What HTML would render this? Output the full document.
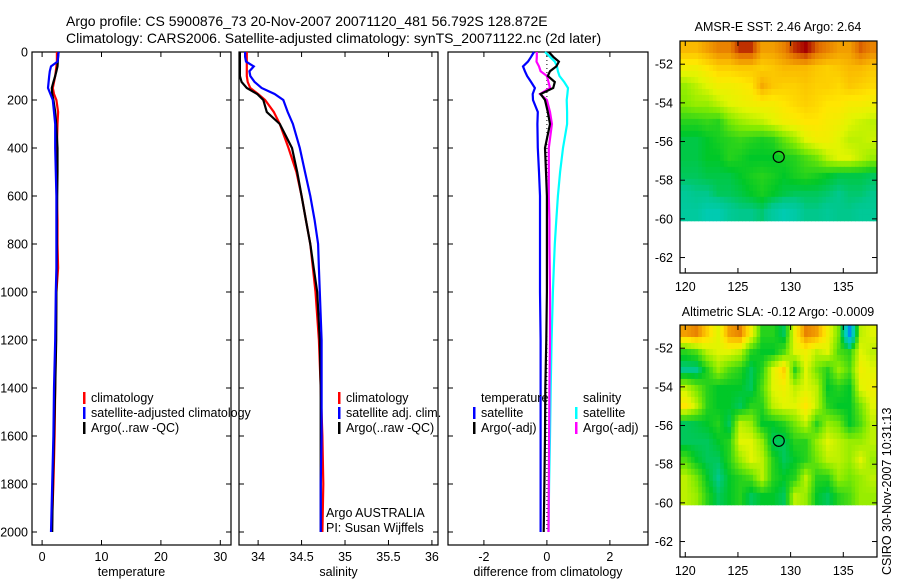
<!DOCTYPE html>
<html><head><meta charset="utf-8">
<style>
html,body{margin:0;padding:0;background:#fff;}
svg{display:block;font-family:"Liberation Sans",Arial,sans-serif;}
</style></head>
<body>
<svg id="chart" width="900" height="580" viewBox="0 0 900 580" xmlns="http://www.w3.org/2000/svg">
<text x="66" y="26" font-size="14">Argo profile: CS 5900876_73 20-Nov-2007 20071120_481 56.792S 128.872E</text>
<text x="66" y="43" font-size="14">Climatology: CARS2006. Satellite-adjusted climatology: synTS_20071122.nc (2d later)</text>
<text x="778" y="31" font-size="12.5" text-anchor="middle">AMSR-E SST: 2.46 Argo: 2.64</text>
<text x="778" y="316" font-size="12.5" text-anchor="middle">Altimetric SLA: -0.12 Argo: -0.0009</text>
<text x="0" y="0" font-size="12.5" transform="translate(891,575) rotate(-90)">CSIRO 30-Nov-2007 10:31:13</text>
<g id="g"></g>
</svg>
<script>
// ---------- data ----------
const depths = [0,20,40,60,80,100,125,150,175,200,250,300,400,500,600,700,800,900,1000,1200,1400,1600,1800,2000];
const tempClim = [2.5,2.5,2.5,2.4,2.3,2.2,2.0,1.8,2.0,2.4,2.7,2.6,2.5,2.5,2.5,2.6,2.6,2.7,2.4,2.3,2.2,2.1,1.9,1.6];
const tempSat  = [2.8,2.7,2.6,1.5,1.3,1.2,1.1,1.0,1.4,1.8,2.0,2.2,2.2,2.3,2.4,2.4,2.4,2.4,2.3,2.2,2.0,1.9,1.7,1.5];
const tempArgo = [2.76,2.7,2.65,2.6,2.4,2.2,1.9,1.64,1.7,1.9,2.2,2.37,2.6,2.6,2.55,2.5,2.5,2.45,2.4,2.37,2.2,2.0,1.8,1.7];
const salClim = [33.87,33.87,33.87,33.87,33.87,33.87,33.88,33.91,34.0,34.08,34.18,34.25,34.35,34.44,34.50,34.55,34.60,34.63,34.66,34.70,34.72,34.74,34.75,34.74];
const salSat  = [33.85,33.85,33.86,33.95,33.9,33.91,33.96,34.04,34.19,34.29,34.34,34.40,34.48,34.54,34.60,34.65,34.69,34.70,34.71,34.73,34.73,34.73,34.72,34.72];
const salArgo = [33.79,33.79,33.79,33.79,33.79,33.79,33.81,33.87,33.99,34.06,34.10,34.25,34.39,34.45,34.50,34.55,34.60,34.64,34.68,34.71,34.72,34.72,34.72,34.72];
const dTempSat  = [-0.41,-0.5,-0.6,-0.76,-0.7,-0.63,-0.5,-0.38,-0.45,-0.44,-0.29,-0.3,-0.29,-0.25,-0.22,-0.22,-0.22,-0.22,-0.22,-0.2,-0.2,-0.2,-0.2,-0.2];
const dTempArgo = [0.06,0.2,0.38,0.3,0.1,0.03,0.25,0.2,-0.2,-0.06,0.03,0.1,-0.06,-0.03,0,0,0,0,0,-0.02,-0.05,-0.06,-0.08,-0.1];
const dSalArgo  = [-0.32,-0.32,-0.33,-0.25,-0.2,0.0,0.05,0.1,-0.22,0.0,0.1,0.16,0.06,0.06,0.06,0.08,0.08,0.09,0.1,0.1,0.08,0.07,0.06,0.05];
const dSalSat   = [-0.06,0.1,0.25,0.32,0.35,0.4,0.55,0.67,0.65,0.63,0.64,0.64,0.51,0.42,0.35,0.3,0.25,0.22,0.19,0.15,0.12,0.1,0.07,0.05];
const depthTicks = [0,200,400,600,800,1000,1200,1400,1600,1800,2000];
const tempTicks = [0,10,20,30];
const salTicks = [34,34.5,35,35.5,36];
const salTickLabels = ["34","34.5","35","35.5","36"];
const diffTicks = [-2,0,2];
const lonTicks = [120,125,130,135];
const latTicks = [-52,-54,-56,-58,-60,-62];
const sstGrid = [
[0.75,0.75,0.8,0.85,0.85,0.95,0.95,0.8,0.8,0.85,0.95,1,0.9,0.85,0.8,0.8,0.9,0.85],
[0.6,0.6,0.65,0.7,0.7,0.72,0.72,0.7,0.72,0.75,0.75,0.75,0.72,0.7,0.72,0.75,0.75,0.72],
[0.45,0.5,0.55,0.6,0.6,0.62,0.65,0.78,0.72,0.7,0.7,0.72,0.7,0.7,0.68,0.72,0.7,0.68],
[0.42,0.45,0.45,0.5,0.55,0.58,0.6,0.62,0.62,0.65,0.68,0.7,0.68,0.65,0.65,0.62,0.62,0.6],
[0.3,0.3,0.32,0.3,0.4,0.45,0.48,0.5,0.55,0.6,0.62,0.65,0.65,0.62,0.6,0.55,0.52,0.5],
[0.22,0.22,0.25,0.28,0.3,0.32,0.3,0.28,0.3,0.38,0.45,0.55,0.6,0.6,0.55,0.5,0.5,0.52],
[0.22,0.22,0.25,0.25,0.3,0.28,0.25,0.25,0.25,0.28,0.3,0.35,0.4,0.5,0.55,0.55,0.5,0.45],
[0.2,0.2,0.22,0.22,0.22,0.25,0.28,0.3,0.28,0.25,0.28,0.3,0.28,0.25,0.22,0.22,0.22,0.2],
[0.12,0.15,0.15,0.2,0.2,0.22,0.25,0.28,0.25,0.22,0.2,0.2,0.2,0.18,0.15,0.18,0.18,0.15],
[0.1,0.1,0.05,0.05,0.12,0.15,0.15,0.18,0.1,0.05,0.08,0.15,0.15,0.12,0.15,0.15,0.12,0.12]];
const slaGrid = [
[0.8,0.85,0.7,0.55,0.8,0.85,0.6,0.3,0.3,0.2,0.6,0.85,0.8,0.6,0.4,-0.2,0.5,0.55],
[0.3,0.35,0.5,0.55,0.55,0.5,0.3,0.25,0.25,0.35,0.55,0.6,0.5,0.55,0.35,0.3,0.55,0.5],
[0.15,0.15,0.3,0.45,0.35,0.3,0.2,0.3,0.55,0.7,0.3,0.55,0.4,0.3,0.45,0.35,0.6,0.55],
[0.5,0.4,0.3,0.25,0.25,0.25,0.2,0.35,0.55,0.6,0.5,0.55,0.5,0.25,0.3,0.25,0.55,0.6],
[0.65,0.5,0.3,0.25,0.25,0.2,0.3,0.3,0.5,0.55,0.55,0.65,0.5,0.3,0.25,0.25,0.4,0.55],
[0.2,0.22,0.25,0.3,0.2,0.5,0.45,0.25,0.25,0.3,0.4,0.5,0.3,0.45,0.4,0.25,0.35,0.5],
[0.2,0.2,0.2,0.25,0.3,0.55,0.55,0.45,0.2,0.2,0.3,0.3,0.45,0.55,0.5,0.45,0.45,0.5],
[0.35,0.25,0.2,0.2,0.3,0.45,0.55,0.5,0.3,0.2,0.25,0.3,0.4,0.5,0.5,0.45,0.55,0.45],
[0.5,0.4,0.25,0.15,0.25,0.3,0.35,0.5,0.3,0.25,0.3,0.5,0.3,0.3,0.45,0.4,0.45,0.5],
[0.5,0.45,0.3,0.2,0.25,0.3,0.2,0.25,0.25,0.2,0.5,0.45,0.25,0.2,0.3,0.35,0.45,0.45]];
const argoLon = 128.872, argoLat = -56.792;

// ---------- helpers ----------
const NS="http://www.w3.org/2000/svg";
const G=document.getElementById('g');
function el(tag,attrs,parent){const e=document.createElementNS(NS,tag);for(const k in attrs)e.setAttribute(k,attrs[k]);(parent||G).appendChild(e);return e;}
function txt(s,x,y,attrs){const e=el('text',Object.assign({x:x,y:y,'font-size':12.5},attrs||{}));e.textContent=s;return e;}

const PT=52, PB=545;
const yD = d => PT + d*48/200;
const panels = [
 {key:'temperature', x0:32, x1:231, vmin:-1.7, vmax:31.8, ticks:tempTicks, labels:tempTicks.map(String), title:'temperature'},
 {key:'salinity', x0:239, x1:438, vmin:33.78, vmax:36.07, ticks:salTicks, labels:salTickLabels, title:'salinity'},
 {key:'difference', x0:448, x1:648, vmin:-3.14, vmax:3.21, ticks:diffTicks, labels:diffTicks.map(String), title:'difference from climatology'}];
panels.forEach(p=>{p.sx=v=>p.x0+(v-p.vmin)/(p.vmax-p.vmin)*(p.x1-p.x0);});

depthTicks.forEach(d=>{
  const t=txt(String(d),28,yD(d)+4.5,{'text-anchor':'end'});
  
  
});

function drawProfile(p,vals,color,name,w){
  const pts=vals.map((v,i)=>p.sx(v).toFixed(1)+','+yD(depths[i]).toFixed(1)).join(' ');
  const l=el('polyline',{points:pts,fill:'none',stroke:color,'stroke-width':w||2.2,'stroke-linejoin':'miter'});
  
  
}

panels.forEach((p,pi)=>{
  const fr=el('rect',{x:p.x0,y:PT,width:p.x1-p.x0,height:PB-PT,fill:'none',stroke:'#000','stroke-width':1.2});
  
  
  p.ticks.forEach((v,i)=>{
    const x=p.sx(v);
    el('line',{x1:x,y1:PB,x2:x,y2:PB-5,stroke:'#000'});
    el('line',{x1:x,y1:PT,x2:x,y2:PT+5,stroke:'#000'});
    const t=txt(p.labels[i],x,561,{'text-anchor':'middle'});
    
    
  });
  depthTicks.forEach(d=>{
    el('line',{x1:p.x0,y1:yD(d),x2:p.x0+5,y2:yD(d),stroke:'#000'});
    el('line',{x1:p.x1,y1:yD(d),x2:p.x1-5,y2:yD(d),stroke:'#000'});
  });
  const at=txt(p.title,(p.x0+p.x1)/2,576,{'text-anchor':'middle'});
  
  
});

const [P1,P2,P3]=panels;
drawProfile(P1,tempClim,'#f00','temp-climatology-line');
drawProfile(P1,tempArgo,'#000','temp-argo-line');
drawProfile(P1,tempSat,'#00f','temp-satellite-line');
drawProfile(P2,salClim,'#f00','sal-climatology-line');
drawProfile(P2,salArgo,'#000','sal-argo-line');
drawProfile(P2,salSat,'#00f','sal-satellite-line');
const zl=el('line',{x1:P3.sx(0),y1:yD(0),x2:P3.sx(0),y2:yD(2000),stroke:'#000','stroke-width':1,'stroke-dasharray':'1,3'});


drawProfile(P3,dSalSat,'#0ff','diff-sal-satellite-line');
drawProfile(P3,dSalArgo,'#f0f','diff-sal-argo-line');
drawProfile(P3,dTempArgo,'#000','diff-temp-argo-line');
drawProfile(P3,dTempSat,'#00f','diff-temp-satellite-line');

function legend(x,y,color,label,name){
  const g=el('g',{});
  
  
  if(color) el('rect',{x:x,y:y-10,width:2.5,height:12,fill:color},g);
  const t=el('text',{x:x+8,y:y,'font-size':12.5},g);t.textContent=label;
}
legend(83,402,'#f00','climatology','legend-temp-climatology');
legend(83,417,'#00f','satellite-adjusted climatology','legend-temp-satellite');
legend(83,432,'#000','Argo(..raw -QC)','legend-temp-argo');
legend(338,402,'#f00','climatology','legend-sal-climatology');
legend(338,417,'#00f','satellite adj. clim.','legend-sal-satellite');
legend(338,432,'#000','Argo(..raw -QC)','legend-sal-argo');
legend(473,402,null,'temperature','legend-header-temperature');
legend(473,417,'#00f','satellite','legend-diff-temp-satellite');
legend(473,432,'#000','Argo(-adj)','legend-diff-temp-argo');
legend(575,402,null,'salinity','legend-header-salinity');
legend(575,417,'#0ff','satellite','legend-diff-sal-satellite');
legend(575,432,'#f0f','Argo(-adj)','legend-diff-sal-argo');
const a1=txt('Argo AUSTRALIA',326,517);
const a2=txt('PI: Susan Wijffels',326,532);

// ---------- maps ----------
const stops=[[-0.3,[0,110,255]],[0,[0,205,195]],[0.15,[0,200,140]],[0.25,[0,200,40]],[0.42,[130,235,0]],[0.55,[225,245,0]],[0.65,[255,230,0]],[0.75,[250,185,0]],[0.88,[228,115,0]],[1,[165,0,0]]];
function cmap(v){
  if(v<=stops[0][0])return 'rgb('+stops[0][1]+')';
  for(let i=1;i<stops.length;i++){if(v<=stops[i][0]){const a=stops[i-1],b=stops[i],t=(v-a[0])/(b[0]-a[0]);
    return 'rgb('+a[1].map((c,k)=>Math.round(c+(b[1][k]-c)*t)).join(',')+')';}}
  return 'rgb('+stops[stops.length-1][1]+')';
}
function sample(grid,fr,fc){
  const R=grid.length,C=grid[0].length;
  fr=Math.max(0,Math.min(R-1,fr));fc=Math.max(0,Math.min(C-1,fc));
  const r0=Math.floor(fr),c0=Math.floor(fc),r1=Math.min(R-1,r0+1),c1=Math.min(C-1,c0+1),tr=fr-r0,tc=fc-c0;
  return grid[r0][c0]*(1-tr)*(1-tc)+grid[r0][c1]*(1-tr)*tc+grid[r1][c0]*tr*(1-tc)+grid[r1][c1]*tr*tc;
}
function drawMap(top,grid,key){
  const x0=680,x1=877,y1=top+232;
  const lonMin=119.5,lonMax=138.2,latMax=-50.8,latMin=-62.8;
  const sx=lon=>x0+(lon-lonMin)/(lonMax-lonMin)*(x1-x0);
  const sy=lat=>top+(latMax-lat)/(latMax-latMin)*(y1-top);
  const rows=grid.length,cols=grid[0].length,S=3;
  const dLat=(latMax-(-60.1))/(rows*S),dLon=(lonMax-lonMin)/(cols*S);
  for(let r=0;r<rows*S;r++)for(let c=0;c<cols*S;c++){
    const v=sample(grid,(r+0.5)/S-0.5,(c+0.5)/S-0.5);
    const xa=sx(lonMin+c*dLon),xb=sx(lonMin+(c+1)*dLon),ya=sy(latMax-r*dLat),yb=sy(latMax-(r+1)*dLat);
    const cell=el('rect',{x:xa.toFixed(2),y:ya.toFixed(2),width:(xb-xa+0.5).toFixed(2),height:(yb-ya+0.5).toFixed(2),fill:cmap(v)});
    
    
  }
  const fr=el('rect',{x:x0,y:top,width:x1-x0,height:y1-top,fill:'none',stroke:'#000','stroke-width':1.2});
  
  
  lonTicks.forEach(l=>{const x=sx(l);el('line',{x1:x,y1:y1,x2:x,y2:y1-5,stroke:'#000'});el('line',{x1:x,y1:top,x2:x,y2:top+5,stroke:'#000'});
    const t=txt(String(l),x,y1+18,{'text-anchor':'middle'});});
  latTicks.forEach(l=>{const y=sy(l);el('line',{x1:x0,y1:y,x2:x0+5,y2:y,stroke:'#000'});el('line',{x1:x1,y1:y,x2:x1-5,y2:y,stroke:'#000'});
    const t=txt(String(l),673,y+4.5,{'text-anchor':'end'});});
  const c=el('circle',{cx:sx(argoLon),cy:sy(argoLat),r:5.5,fill:'none',stroke:'#000','stroke-width':1.2});
  
  
}
drawMap(41,sstGrid,'sst-map');
drawMap(325,slaGrid,'sla-map');
</script>
</body></html>
